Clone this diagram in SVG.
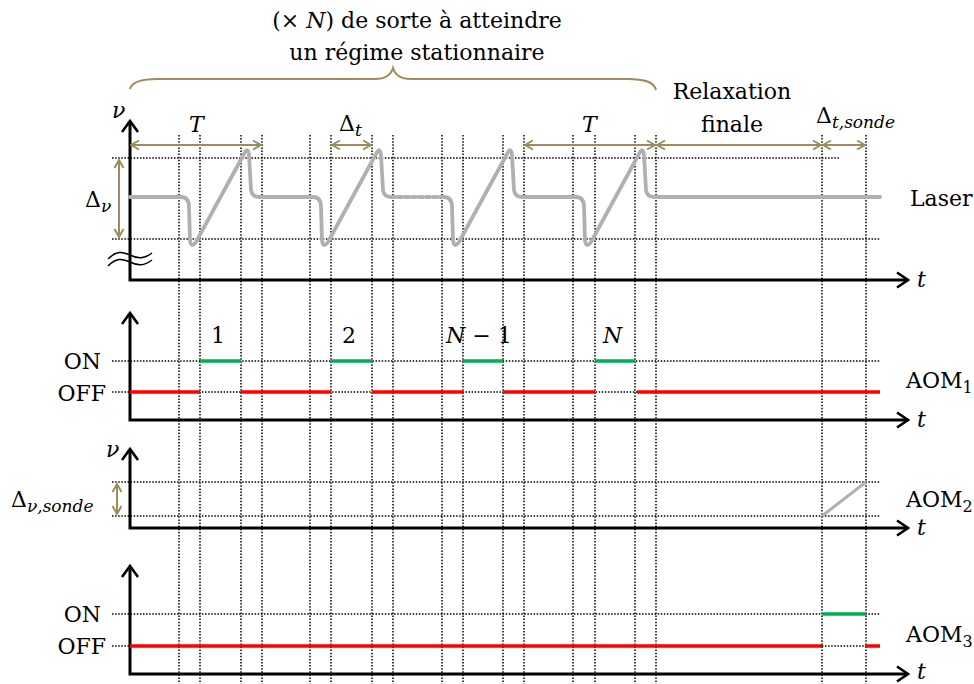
<svg xmlns="http://www.w3.org/2000/svg" width="974" height="684" viewBox="0 0 974 684">
<defs>
<marker id="olv" viewBox="0 0 12 12" refX="11" refY="6" markerWidth="12" markerHeight="12" markerUnits="userSpaceOnUse" orient="auto-start-reverse">
<path d="M3,1.5 L11,6 L3,10.5" fill="none" stroke="#9c8d5b" stroke-width="2"/>
</marker>
<marker id="blk" viewBox="0 0 16 18" refX="14" refY="9" markerWidth="16" markerHeight="18" markerUnits="userSpaceOnUse" orient="auto">
<path d="M3,1.5 L14,9 L3,16.5" fill="none" stroke="#000" stroke-width="2.6"/>
</marker>
</defs>
<style>
text{font-family:"DejaVu Serif","Liberation Serif",serif;fill:#000;font-size:22px}
.it{font-style:italic}
.sub{font-size:17px}
.asub{font-size:16px}
.dot{stroke:#000;stroke-width:1.5;stroke-dasharray:1.5 1.6;fill:none}
.ax{stroke:#000;stroke-width:3;fill:none}
.dim{stroke:#9c8d5b;stroke-width:2;fill:none;marker-start:url(#olv);marker-end:url(#olv)}
.las{stroke:#b0b0b0;stroke-width:3.8;fill:none;stroke-linejoin:round;stroke-linecap:round}
.on{stroke:#00b050;stroke-width:3.5}
.off{stroke:#ff0000;stroke-width:3.5}
</style>
<rect width="974" height="684" fill="#fff"/>

<g id="grid">
<path class="dot" d="M179,135V684M200,135V684M241,135V684M262,135V684M310,135V684M331,135V684M372,135V684M393,135V684M442,135V684M463,135V684M503,135V684M524,135V684M573,135V684M595,135V684M635,135V684M656,135V684M822,135V684M866,135V684"/>
<path class="dot" d="M112,158H840M112,239H880M112,361H880M112,392H880M112,482H880M112,516H880M112,614H880M112,646H880"/>
</g>

<g id="header">
<path d="M130,89 C132,82 140,79 157,79 H375 C386,79 391,75 393,68 C395,75 400,79 411,79 H628 C645,79 654,82 656,90" fill="none" stroke="#9c8d5b" stroke-width="2"/>
<text x="417" y="28" text-anchor="middle" font-size="23">(× <tspan class="it">N</tspan>) de sorte à atteindre</text>
<text x="417" y="60" text-anchor="middle" font-size="23">un régime stationnaire</text>
</g>

<g id="laser-panel">
<path class="ax" d="M130,122V280H908" marker-end="url(#blk)"/>
<path d="M122,132L130,121L138,132" fill="none" stroke="#000" stroke-width="2.6"/>
<text class="it" x="112" y="118">ν</text>
<text class="it" x="917" y="287">t</text>
<path d="M108,259 C116,251 122,251 130,255 C138,259 144,259 152,253 M108,266 C116,258 122,258 130,262 C138,266 144,266 152,260" fill="none" stroke="#000" stroke-width="1.5"/>
<path class="las" d="M130,197 H181 Q189,197 189,207 L190,240 Q191,249 196,242 L244,154 Q248,146 249,155 L251,190 Q252,197 259,197 H313 Q321,197 321,207 L322,240 Q323,249 328,242 L376,154 Q380,146 381,155 L383,190 Q384,197 391,197"/>
<path class="las" d="M391,197 H443" stroke-dasharray="4 3" stroke-linecap="butt"/>
<path class="las" d="M443,197 H444 Q452,197 452,207 L453,240 Q454,249 459,242 L507,154 Q511,146 512,155 L514,190 Q515,197 522,197 H576 Q584,197 584,207 L585,240 Q586,249 591,242 L639,154 Q643,146 644,155 L646,190 Q647,197 654,197 H880"/>
<text x="910" y="206">Laser</text>
<path class="dim" d="M119,160V237"/>
<text x="85" y="207">Δ<tspan class="it sub" dy="5">ν</tspan></text>
<path class="dim" d="M131,145H261"/>
<path class="dim" d="M332,145H371"/>
<path class="dim" d="M525,145H655"/>
<path class="dim" d="M657,145H821"/>
<path class="dim" d="M823,145H865"/>
<text class="it" x="189" y="132" font-size="24">T</text>
<text class="it" x="582" y="132" font-size="24">T</text>
<text x="339" y="131">Δ<tspan class="it sub" dy="5">t</tspan></text>
<text x="732" y="99" text-anchor="middle">Relaxation</text>
<text x="732" y="132" text-anchor="middle">finale</text>
<text x="816" y="123">Δ<tspan class="it sub" dy="5">t,sonde</tspan></text>
</g>

<g id="aom1-panel">
<path class="ax" d="M130,314V420H908" marker-end="url(#blk)"/>
<path d="M122,324L130,313L138,324" fill="none" stroke="#000" stroke-width="2.6"/>
<text class="it" x="917" y="427">t</text>
<text x="101" y="369" text-anchor="end">ON</text>
<text x="106" y="401" text-anchor="end">OFF</text>
<text x="906" y="388">AOM<tspan class="asub" dy="5">1</tspan></text>
<path class="on" d="M200,361H241M331,361H372M463,361H503M595,361H635"/>
<path class="off" d="M130,392H200M241,392H331M372,392H463M503,392H595M637,392H880"/>
<text x="211" y="343">1</text>
<text x="342" y="343">2</text>
<text x="446" y="343"><tspan class="it">N</tspan> − 1</text>
<text class="it" x="603" y="343">N</text>
</g>

<g id="aom2-panel">
<path class="ax" d="M130,450V528H908" marker-end="url(#blk)"/>
<path d="M122,460L130,449L138,460" fill="none" stroke="#000" stroke-width="2.6"/>
<text class="it" x="106" y="457">ν</text>
<text class="it" x="917" y="535">t</text>
<path class="dim" d="M117,484V514"/>
<text x="11" y="507">Δ<tspan class="it sub" dy="5">ν,sonde</tspan></text>
<path d="M822,516L866,482" stroke="#b0b0b0" stroke-width="3" fill="none"/>
<text x="906" y="507">AOM<tspan class="asub" dy="5">2</tspan></text>
</g>

<g id="aom3-panel">
<path class="ax" d="M130,567V674H908" marker-end="url(#blk)"/>
<path d="M122,577L130,566L138,577" fill="none" stroke="#000" stroke-width="2.6"/>
<text class="it" x="917" y="679">t</text>
<text x="101" y="622" text-anchor="end">ON</text>
<text x="106" y="654" text-anchor="end">OFF</text>
<path class="on" d="M822,614H866"/>
<path class="off" d="M130,646H822M866,646H880"/>
<text x="906" y="642">AOM<tspan class="asub" dy="5">3</tspan></text>
</g>
</svg>
